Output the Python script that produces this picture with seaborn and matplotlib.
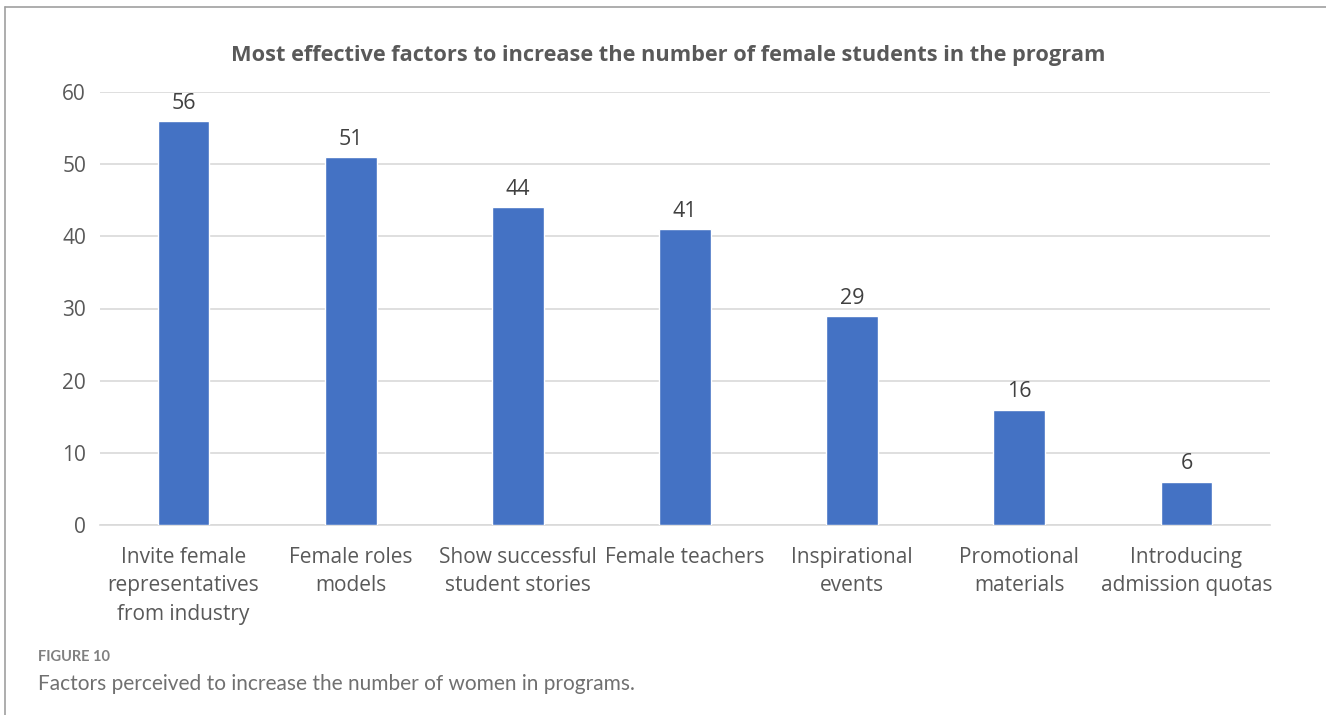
import pandas as pd
import seaborn as sns
import matplotlib.pyplot as plt
from matplotlib.lines import Line2D

# Chart data
factors = [
    "Invite female\nrepresentatives\nfrom industry",
    "Female roles\nmodels",
    "Show successful\nstudent stories",
    "Female teachers",
    "Inspirational\nevents",
    "Promotional\nmaterials",
    "Introducing\nadmission quotas",
]
counts = [56, 51, 44, 41, 29, 16, 6]
y_ticks = [0, 10, 20, 30, 40, 50, 60]

df = pd.DataFrame({"Factor": factors, "Count": counts})

sns.set_style("white")
plt.rcParams["font.family"] = ["Open Sans", "DejaVu Sans"]

text_col = "#595959"
fig = plt.figure(figsize=(13.26, 7.15), dpi=100)
ax = fig.add_axes([100 / 1326, 1 - 525 / 715, 1170 / 1326, (525 - 92) / 715])

sns.barplot(data=df, x="Factor", y="Count", color="#4472C4", width=0.31,
            saturation=1, ax=ax, zorder=3)

ax.set_ylim(0, 60)
ax.set_xlim(-0.5, len(factors) - 0.5)
ax.set_yticks(y_ticks)
ax.yaxis.grid(True, color="#D9D9D9", linewidth=1.2, zorder=0)
ax.set_axisbelow(True)
for s in ["top", "right", "left"]:
    ax.spines[s].set_visible(False)
ax.spines["bottom"].set_color("#D9D9D9")
ax.spines["bottom"].set_linewidth(1.2)
ax.tick_params(axis="both", length=0, colors=text_col, labelsize=15)
ax.tick_params(axis="x", pad=16)
ax.tick_params(axis="y", pad=10)
for lbl in ax.get_xticklabels():
    lbl.set_linespacing(1.45)
ax.set_xlabel("")
ax.set_ylabel("")

# value labels
for i, v in enumerate(counts):
    ax.text(i, v + 1.0, str(v), ha="center", va="bottom", fontsize=15.5, color="#404040")

fig.text(668 / 1326, 1 - 56 / 715,
         "Most effective factors to increase the number of female students in the program",
         ha="center", va="center", fontsize=15.7, fontweight="bold", color=text_col)

# caption
fig.text(38 / 1326, 1 - 657 / 715, "FIGURE 10", ha="left", va="center",
         fontsize=10.5, fontweight="bold", color="#808080", family=["Lato", "DejaVu Sans"])
fig.text(38 / 1326, 1 - 684 / 715, "Factors perceived to increase the number of women in programs.",
         ha="left", va="center", fontsize=15, color="#707070", family=["Lato", "DejaVu Sans"])

# frame lines at top and left
fig.add_artist(Line2D([5 / 1326, 1], [1 - 7 / 715, 1 - 7 / 715], transform=fig.transFigure,
                      color="#A0A0A0", linewidth=1.2))
fig.add_artist(Line2D([5 / 1326, 5 / 1326], [0, 1 - 7 / 715], transform=fig.transFigure,
                      color="#A0A0A0", linewidth=1.2))

fig.savefig("out.png", dpi=100)
plt.close()
